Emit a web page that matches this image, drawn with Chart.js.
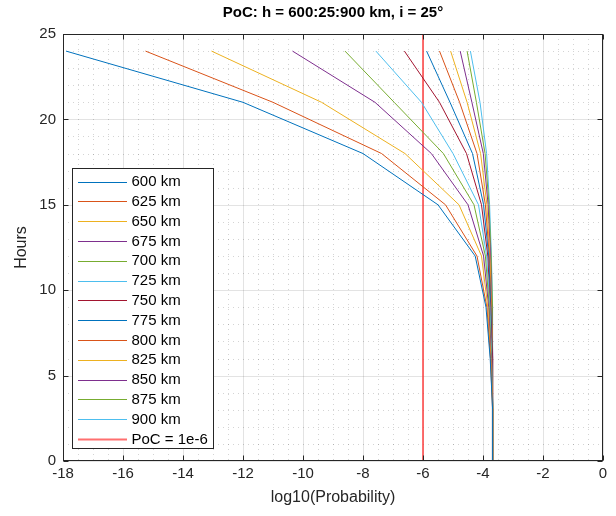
<!DOCTYPE html>
<html>
<head>
<meta charset="utf-8">
<script src="https://cdn.jsdelivr.net/npm/chart.js@4.4.1/dist/chart.umd.min.js"></script>
<style>
  html, body { margin: 0; padding: 0; background: #fff; }
  #wrap { width: 616px; height: 516px; position: relative; }
</style>
</head>
<body>
<div id="wrap"><canvas id="c" width="616" height="516"></canvas></div>
<script>
// ---- data ----
const hours = [0, 3, 6, 9, 12, 15, 18, 21, 24];
const altitudes = ['600 km','625 km','650 km','675 km','700 km','725 km','750 km','775 km','800 km','825 km','850 km','875 km','900 km'];
const p600 = [-3.67, -3.68, -3.76, -3.90, -4.26, -5.50, -8.00, -12.00, -17.90];
const p625 = [-3.67, -3.68, -3.75, -3.87, -4.20, -5.25, -7.38, -11.00, -15.25];
const p650 = [-3.67, -3.67, -3.74, -3.84, -4.05, -4.80, -6.60, -9.38, -13.05];
const p675 = [-3.67, -3.67, -3.73, -3.81, -3.98, -4.50, -5.72, -7.60, -10.35];
const p700 = [-3.67, -3.67, -3.72, -3.79, -3.92, -4.30, -5.32, -6.96, -8.60];
const p725 = [-3.67, -3.67, -3.71, -3.77, -3.88, -4.15, -5.00, -6.05, -7.57];
const p750 = [-3.67, -3.67, -3.70, -3.76, -3.84, -4.05, -4.55, -5.45, -6.62];
const p775 = [-3.67, -3.67, -3.70, -3.74, -3.81, -3.98, -4.35, -5.10, -5.88];
const p800 = [-3.67, -3.67, -3.69, -3.73, -3.79, -3.92, -4.20, -4.78, -5.45];
const p825 = [-3.67, -3.67, -3.69, -3.72, -3.77, -3.87, -4.08, -4.53, -5.08];
const p850 = [-3.67, -3.67, -3.68, -3.71, -3.75, -3.83, -3.99, -4.37, -4.76];
const p875 = [-3.67, -3.67, -3.68, -3.70, -3.73, -3.80, -3.93, -4.22, -4.53];
const p900 = [-3.67, -3.67, -3.68, -3.69, -3.72, -3.78, -3.88, -4.10, -4.42];
const seriesValues = [p600, p625, p650, p675, p700, p725, p750, p775, p800, p825, p850, p875, p900];
const pocLabel = 'PoC = 1e-6';
const pocX = [-6, -6];
const pocY = [0, 25];
const xTicks = [-18, -16, -14, -12, -10, -8, -6, -4, -2, 0];
const yTicks = [0, 5, 10, 15, 20, 25];

// ---- styles ----
const palette = ['#0072BD', '#D95319', '#EDB120', '#7E2F8E', '#77AC30', '#4DBEEE', '#A2142F'];
const FONT = '"Liberation Sans", Arial, Helvetica, sans-serif';
const TXT = '#262626';

const datasets = seriesValues.map((vals, i) => ({
  label: altitudes[i],
  data: vals.map((v, k) => ({ x: v, y: hours[k] })),
  borderColor: palette[i % palette.length],
  backgroundColor: palette[i % palette.length],
  borderWidth: 1,
  pointRadius: 0,
  tension: 0,
  fill: false
}));
datasets.push({
  label: pocLabel,
  data: pocX.map((v, k) => ({ x: v, y: pocY[k] })),
  borderColor: 'rgba(255,50,50,0.7)',
  backgroundColor: 'rgba(255,50,50,0.7)',
  borderWidth: 2,
  pointRadius: 0,
  fill: false
});

const gridPlugin = {
  id: 'matlabGrid',
  beforeDatasetsDraw(chart) {
    const { ctx, chartArea: a, scales: { x, y } } = chart;
    ctx.save();
    // minor dotted
    ctx.strokeStyle = 'rgba(38,38,38,0.2)';
    ctx.lineWidth = 1;
    ctx.setLineDash([1, 4]);
    for (let v = -18; v <= 0.001; v += 0.5) {
      if (Math.abs(v % 2) < 1e-6) continue;
      const px = Math.round(x.getPixelForValue(v)) + 0.5;
      ctx.beginPath(); ctx.moveTo(px, a.top); ctx.lineTo(px, a.bottom); ctx.stroke();
    }
    for (let v = 0; v <= 25; v += 1) {
      if (v % 5 === 0) continue;
      const py = Math.round(y.getPixelForValue(v)) + 0.5;
      ctx.beginPath(); ctx.moveTo(a.left, py); ctx.lineTo(a.right, py); ctx.stroke();
    }
    // major solid
    ctx.setLineDash([]);
    ctx.strokeStyle = 'rgba(38,38,38,0.13)';
    xTicks.forEach(v => {
      const px = Math.round(x.getPixelForValue(v)) + 0.5;
      ctx.beginPath(); ctx.moveTo(px, a.top); ctx.lineTo(px, a.bottom); ctx.stroke();
    });
    yTicks.forEach(v => {
      const py = Math.round(y.getPixelForValue(v)) + 0.5;
      ctx.beginPath(); ctx.moveTo(a.left, py); ctx.lineTo(a.right, py); ctx.stroke();
    });
    ctx.restore();
  },
  afterDatasetsDraw(chart) {
    const { ctx, chartArea: a, scales: { x, y } } = chart;
    ctx.save();
    ctx.strokeStyle = TXT;
    ctx.lineWidth = 1;
    const L = Math.round(a.left) + 0.5, R = Math.round(a.right) - 0.5;
    const T = Math.round(a.top) + 0.5, B = Math.round(a.bottom) - 0.5;
    ctx.strokeRect(L, T, R - L, B - T);
    const tl = 5;
    xTicks.forEach(v => {
      const px = Math.round(x.getPixelForValue(v)) + 0.5;
      ctx.beginPath(); ctx.moveTo(px, B); ctx.lineTo(px, B - tl); ctx.stroke();
      ctx.beginPath(); ctx.moveTo(px, T); ctx.lineTo(px, T + tl); ctx.stroke();
    });
    yTicks.forEach(v => {
      const py = Math.round(y.getPixelForValue(v)) + 0.5;
      ctx.beginPath(); ctx.moveTo(L, py); ctx.lineTo(L + tl, py); ctx.stroke();
      ctx.beginPath(); ctx.moveTo(R, py); ctx.lineTo(R - tl, py); ctx.stroke();
    });

    // legend box
    const bx = 72.5, by = 168.5, bw = 141, bh = 280;
    ctx.fillStyle = '#ffffff';
    ctx.fillRect(bx, by, bw, bh);
    ctx.strokeStyle = TXT;
    ctx.strokeRect(bx, by, bw, bh);
    ctx.font = '15px ' + FONT;
    ctx.textBaseline = 'middle';
    ctx.textAlign = 'left';
    chart.data.datasets.forEach((ds, i) => {
      const yy = 181.5 + i * 19.8;
      ctx.strokeStyle = ds.borderColor;
      ctx.lineWidth = ds.borderWidth;
      ctx.beginPath(); ctx.moveTo(78, Math.round(yy) + 0.5); ctx.lineTo(127, Math.round(yy) + 0.5); ctx.stroke();
      ctx.fillStyle = '#000';
      ctx.fillText(ds.label, 131.5, yy + 0.5);
    });

    // title
    ctx.font = 'bold 15px ' + FONT;
    ctx.fillStyle = '#000';
    ctx.textAlign = 'center';
    ctx.textBaseline = 'middle';
    ctx.fillText('PoC: h = 600:25:900 km, i = 25°', (a.left + a.right) / 2, 13);
    ctx.restore();
  }
};

new Chart(document.getElementById('c'), {
  type: 'line',
  data: { datasets },
  plugins: [gridPlugin],
  options: {
    responsive: false,
    animation: false,
    devicePixelRatio: 1,
    layout: { padding: { top: 34, right: 13, left: 0, bottom: 0 } },
    plugins: { legend: { display: false }, title: { display: false }, tooltip: { enabled: false } },
    scales: {
      x: {
        type: 'linear', min: -18, max: 0,
        afterFit(s) { s.height = 55; },
        afterBuildTicks(s) { s.ticks = xTicks.map(v => ({ value: v })); },
        grid: { display: false, drawTicks: false },
        border: { display: false },
        ticks: { color: TXT, font: { family: FONT, size: 15 }, padding: 4, maxRotation: 0, autoSkip: false },
        title: { display: true, text: 'log10(Probability)', color: TXT, font: { family: FONT, size: 16 }, padding: { top: 0, bottom: 9 } }
      },
      y: {
        type: 'linear', min: 0, max: 25,
        afterFit(s) { s.width = 63; },
        afterBuildTicks(s) { s.ticks = yTicks.map(v => ({ value: v })); },
        grid: { display: false, drawTicks: false },
        border: { display: false },
        ticks: { color: TXT, font: { family: FONT, size: 15 }, padding: 7, autoSkip: false },
        title: { display: true, text: 'Hours', color: TXT, font: { family: FONT, size: 16 }, padding: { top: 12, bottom: 0 } }
      }
    }
  }
});
</script>
</body>
</html>
